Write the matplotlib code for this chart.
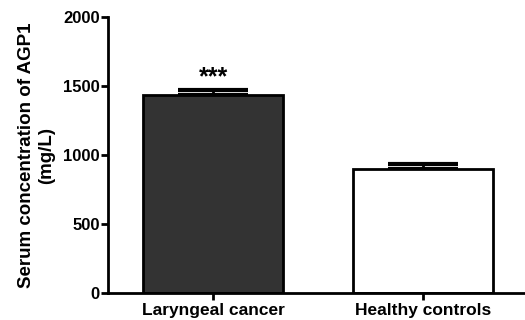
import matplotlib.pyplot as plt

# data
groups = ['Laryngeal cancer', 'Healthy controls']
means = [1438, 899]
sems = [30, 36]
fills = ['#333333', 'white']
stars = ['***', '']

plt.rcParams['font.family'] = ['Liberation Sans', 'DejaVu Sans']
plt.rcParams['font.weight'] = 'bold'

fig = plt.figure(figsize=(5.25, 3.2), dpi=100)
ax = fig.add_axes([0.206, 0.084, 0.794, 0.863])

x = range(len(groups))
ax.bar(x, means, width=0.667, color=fills, edgecolor='black', linewidth=2, zorder=2)
ax.errorbar(x, means, yerr=[[0] * len(sems), sems], fmt='none', ecolor='black',
            elinewidth=2, capsize=25, capthick=3, zorder=1)
for i, s in enumerate(stars):
    if s:
        ax.text(i, means[i] + sems[i] + 5, s, ha='center', va='bottom',
                fontsize=18, fontweight='bold')

ax.set_xlim(-0.5, 1.486)
ax.set_ylim(0, 2000)
ax.set_yticks([0, 500, 1000, 1500, 2000])
ax.set_xticks(list(x))
ax.set_xticklabels(groups)
ax.set_ylabel('Serum concentration of AGP1\n(mg/L)', fontsize=13.5, fontweight='bold',
              labelpad=6)

for side in ['top', 'right']:
    ax.spines[side].set_visible(False)
for side in ['left', 'bottom']:
    ax.spines[side].set_linewidth(2)
ax.tick_params(width=2, length=5, labelsize=12, pad=1)
ax.tick_params(axis='x', labelsize=12.5, pad=2)

fig.savefig('out.png', dpi=100)
